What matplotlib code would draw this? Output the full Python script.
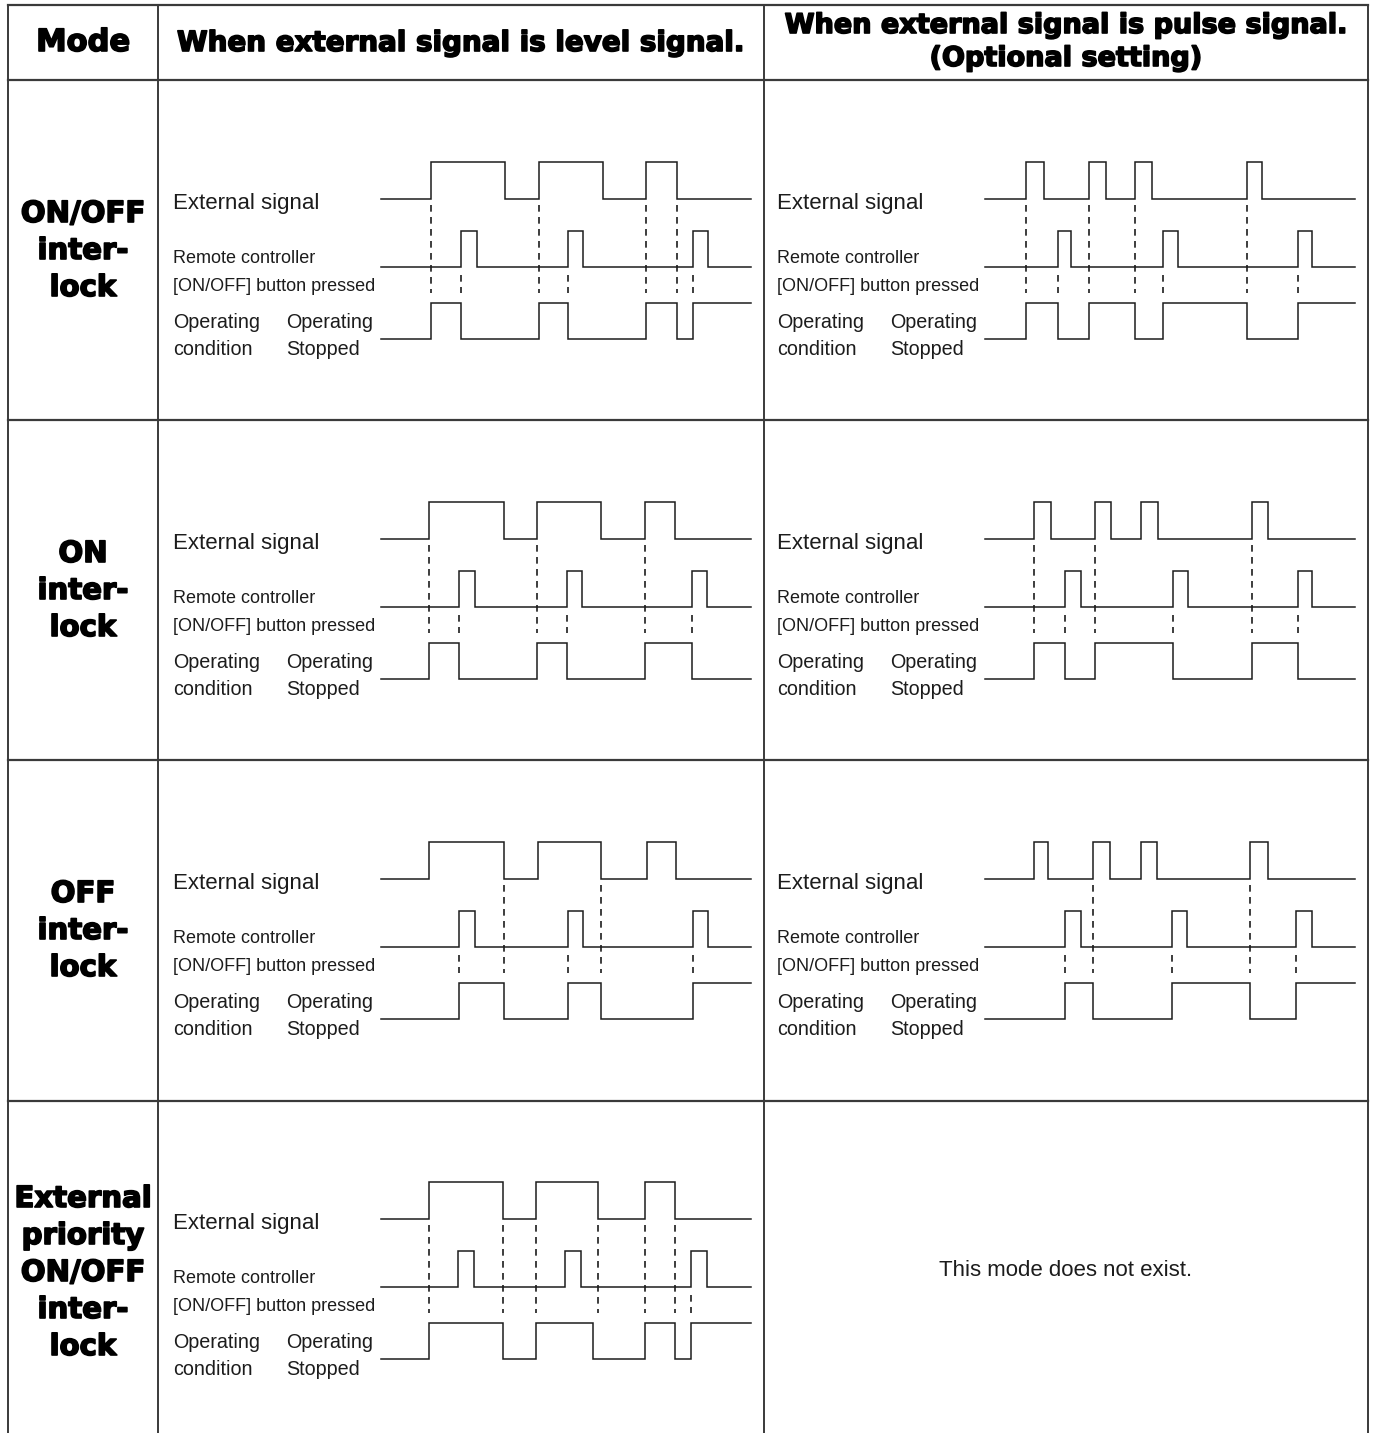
import matplotlib.pyplot as plt
import matplotlib.patheffects as pe

W, H = 1374, 1433

# mode column labels
modes = [["ON/OFF", "inter-", "lock"],
         ["ON", "inter-", "lock"],
         ["OFF", "inter-", "lock"],
         ["External", "priority", "ON/OFF", "inter-", "lock"]]

headers = ["Mode", "When external signal is level signal.",
           "When external signal is pulse signal.\n(Optional setting)"]

# toggle times along each trace (px from trace start, every trace starts low)
level_ext = [[50, 124, 158, 222, 265, 296],
             [48, 123, 156, 220, 264, 294],
             [48, 123, 157, 220, 266, 295],
             [48, 122, 155, 217, 264, 294]]
level_remote = [[80, 96, 187, 202, 312, 327],
                [78, 94, 186, 201, 311, 326],
                [78, 94, 187, 202, 312, 327],
                [77, 93, 184, 200, 310, 326]]
level_oper = [[50, 80, 158, 187, 265, 296, 312],
              [48, 78, 156, 186, 264, 311],
              [78, 123, 187, 220, 312],
              [48, 122, 155, 212, 264, 294, 310]]
level_dash_ext = [[50, 158, 265, 296], [48, 156, 264], [123, 220],
                  [48, 122, 155, 217, 264, 294]]
level_dash_remote = [[80, 187, 312], [78, 186, 311], [78, 187, 312], [310]]

pulse_ext = [[41, 59, 104, 121, 150, 167, 262, 277],
             [49, 66, 110, 126, 156, 173, 267, 283],
             [49, 63, 108, 125, 156, 172, 265, 283]]
pulse_remote = [[73, 86, 178, 193, 313, 327],
                [80, 96, 188, 203, 313, 327],
                [80, 96, 187, 202, 311, 327]]
pulse_oper = [[41, 73, 104, 150, 178, 262, 313],
              [49, 80, 110, 188, 267, 313],
              [80, 108, 187, 265, 311]]
pulse_dash_ext = [[41, 104, 150, 262], [49, 110, 267], [108, 265]]
pulse_dash_remote = [[73, 178, 313], [80, 188, 313], [80, 187, 311]]

missing_text = "This mode does not exist."

INK = "#1c1c1c"
GRID = "#3a3a3a"
SPAN = 370
LEVEL_X0, PULSE_X0 = 381, 985

fig = plt.figure(figsize=(W / 100, H / 100), dpi=100)
ax = fig.add_axes([0, 0, 1, 1])
ax.set_xlim(0, W)
ax.set_ylim(H, 0)
ax.axis("off")


def step(edges, x0, lo, hi):
    xs, ys = [x0], [lo]
    level = lo
    for e in edges:
        xs += [x0 + e, x0 + e]
        ys += [level, hi if level == lo else lo]
        level = ys[-1]
    xs.append(x0 + SPAN)
    ys.append(level)
    return xs, ys


def panel(x0, top, ext, rem, oper, d_ext, d_rem):
    rows = [(ext, top + 119, top + 82), (rem, top + 187, top + 151),
            (oper, top + 259, top + 223)]
    for edges, lo, hi in rows:
        xs, ys = step(edges, x0, lo, hi)
        ax.plot(xs, ys, color=INK, lw=1.1, solid_joinstyle="miter")
    for t in d_ext:
        ax.plot([x0 + t] * 2, [top + 125, top + 213], color=INK, lw=1.2,
                dashes=(4, 3.2))
    for t in d_rem:
        ax.plot([x0 + t] * 2, [top + 195, top + 213], color=INK, lw=1.2,
                dashes=(4, 3.2))
    lx = x0 - 208
    ax.text(lx, top + 129, "External signal", fontsize=16,
            family="Liberation Sans", color=INK)
    ax.text(lx, top + 183, "Remote controller", fontsize=13,
            family="Liberation Sans", color=INK)
    ax.text(lx, top + 211, "[ON/OFF] button pressed", fontsize=13,
            family="Liberation Sans", color=INK)
    ax.text(lx, top + 248, "Operating", fontsize=14.2,
            family="Liberation Sans", color=INK)
    ax.text(lx, top + 275, "condition", fontsize=14.2,
            family="Liberation Sans", color=INK)
    ax.text(lx + 113, top + 248, "Operating", fontsize=14.2,
            family="Liberation Sans", color=INK)
    ax.text(lx + 113, top + 275, "Stopped", fontsize=14.2,
            family="Liberation Sans", color=INK)


# grid
for y in [5, 80, 420, 760, 1101]:
    ax.plot([8, 1368], [y, y], color=GRID, lw=1.6)
for x in [8, 158, 764, 1368]:
    ax.plot([x, x], [5, H], color=GRID, lw=1.4)

heavy = [pe.withStroke(linewidth=1.2, foreground="black")]

ax.text(83, 51, headers[0], fontsize=22, weight="bold", ha="center",
        color="black", path_effects=heavy)
ax.text(461, 51, headers[1], fontsize=20, weight="bold", ha="center",
        color="black", path_effects=heavy)
line1, line2 = headers[2].split("\n")
ax.text(1066, 33, line1, fontsize=19.5, weight="bold", ha="center",
        color="black", path_effects=heavy)
ax.text(1066, 66, line2, fontsize=19.5, weight="bold", ha="center",
        color="black", path_effects=heavy)

# mode labels
for i, words in enumerate(modes):
    top = 80 + 340 * i
    base = top + 142 if len(words) == 3 else top + 107
    for k, w in enumerate(words):
        ax.text(83, base + 37 * k, w, fontsize=21, weight="bold",
                ha="center", color="black", path_effects=heavy)

for i in range(4):
    top = 80 + 340 * i
    panel(LEVEL_X0, top, level_ext[i], level_remote[i], level_oper[i],
          level_dash_ext[i], level_dash_remote[i])
    if i < 3:
        panel(PULSE_X0, top, pulse_ext[i], pulse_remote[i], pulse_oper[i],
              pulse_dash_ext[i], pulse_dash_remote[i])

ax.text(1066, 1271, missing_text, fontsize=16, family="Liberation Sans",
        ha="center", va="center", color=INK)

fig.savefig("out.png", dpi=100)
